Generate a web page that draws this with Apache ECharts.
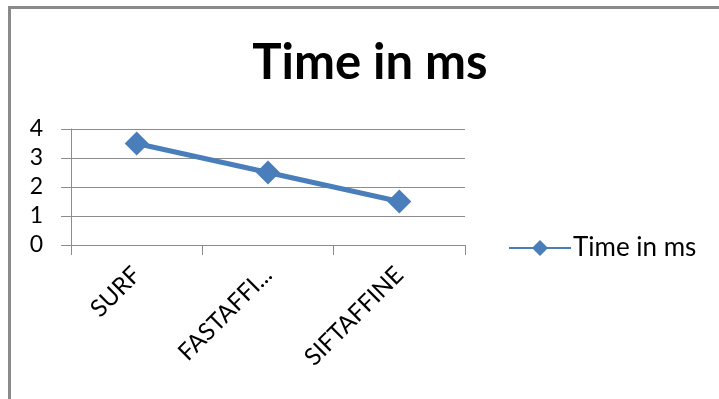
<!DOCTYPE html>
<html>
<head>
<meta charset="utf-8">
<script src="https://cdn.jsdelivr.net/npm/echarts@6/dist/echarts.min.js"></script>
<style>
  html, body { margin: 0; padding: 0; background: #fff; }
  #chart { width: 719px; height: 399px; }
</style>
</head>
<body>
<div id="chart"></div>
<script>
// Methods compared and their timings
const categories = ['SURF', 'FASTAFFI...', 'SIFTAFFINE'];
const timeInMs = [3.5, 2.5, 1.5];
const seriesName = 'Time in ms';
const yTicks = { min: 0, max: 4, interval: 1 };

const FONT = 'Lato, "Open Sans", sans-serif';
const AXIS_GRAY = '#8c8c8c';
const LINE_BLUE = '#4a7ebb';

const chart = echarts.init(document.getElementById('chart'), null, { renderer: 'canvas' });

chart.setOption({
  animation: false,
  backgroundColor: '#fff',
  graphic: [{
    type: 'rect',
    shape: { x: 9.5, y: 7.5, width: 760, height: 420 },
    style: { fill: 'none', stroke: '#8a8a8a', lineWidth: 3 },
    silent: true
  }],
  title: {
    text: seriesName,
    left: 365,
    top: 34,
    textAlign: 'center',
    textStyle: { fontFamily: FONT, fontWeight: 'bold', fontSize: 49, color: '#000' }
  },
  legend: {
    left: 508,
    top: 235,
    padding: 0,
    itemWidth: 62,
    itemHeight: 20,
    itemGap: 5,
    textStyle: { fontFamily: FONT, fontSize: 26, color: '#000', padding: [0, 0, 0, -3] },
    data: [seriesName]
  },
  grid: { left: 71, right: 254, top: 129, bottom: 154, containLabel: false },
  xAxis: {
    type: 'category',
    data: categories,
    boundaryGap: true,
    axisLine: { show: true, lineStyle: { color: AXIS_GRAY, width: 1 } },
    axisTick: { show: true, length: 10, lineStyle: { color: AXIS_GRAY } },
    axisLabel: {
      rotate: 45,
      margin: 26,
      interval: 0,
      fontFamily: FONT,
      fontSize: 24,
      color: '#000'
    },
    splitLine: { show: false }
  },
  yAxis: {
    type: 'value',
    min: yTicks.min,
    max: yTicks.max,
    interval: yTicks.interval,
    axisLine: { show: true, lineStyle: { color: AXIS_GRAY, width: 1 } },
    axisTick: { show: true, length: 10, lineStyle: { color: AXIS_GRAY } },
    axisLabel: { margin: 28, fontFamily: FONT, fontSize: 23, color: '#000' },
    splitLine: { show: true, lineStyle: { color: AXIS_GRAY, width: 1 } }
  },
  series: [{
    name: seriesName,
    type: 'line',
    data: timeInMs,
    symbol: 'diamond',
    symbolSize: 24,
    showAllSymbol: true,
    lineStyle: { color: LINE_BLUE, width: 5 },
    itemStyle: { color: LINE_BLUE }
  }]
});
</script>
</body>
</html>
